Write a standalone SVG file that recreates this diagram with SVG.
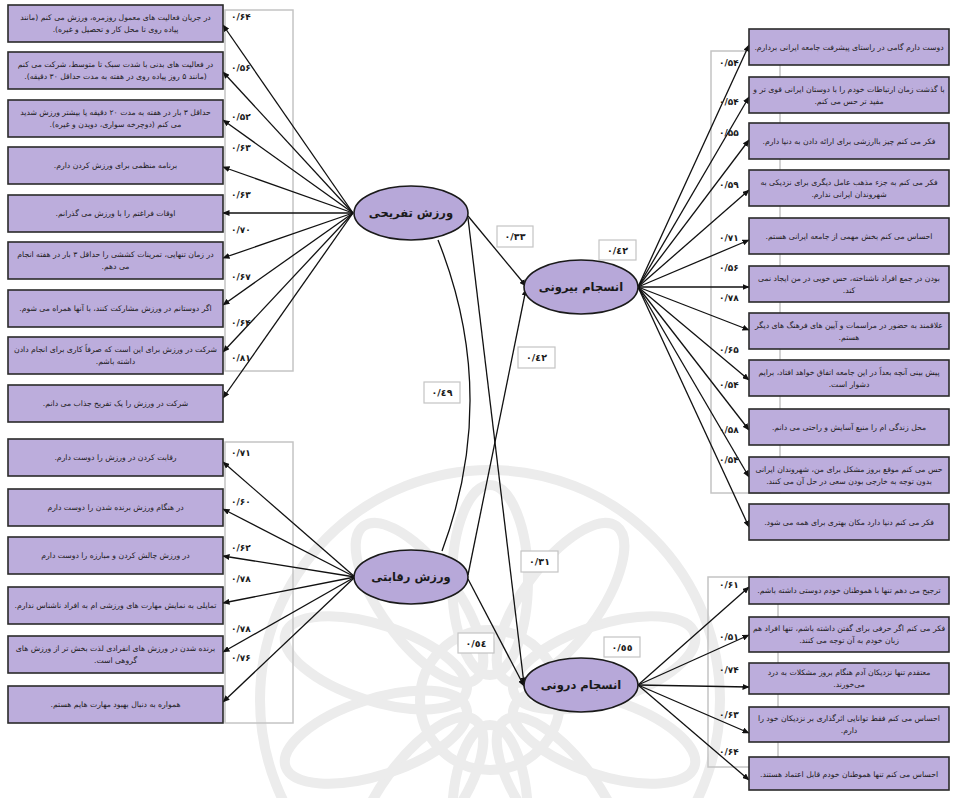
<svg xmlns="http://www.w3.org/2000/svg" width="956" height="798" viewBox="0 0 956 798">
<defs>
<marker id="ah" markerWidth="7" markerHeight="6" refX="6.5" refY="3" orient="auto" markerUnits="userSpaceOnUse">
<path d="M0,0 L7,3 L0,6 z" fill="#111"/>
</marker>
<ellipse id="petal" cx="0" cy="-120" rx="38" ry="95"/>
<style>
.box{fill:#bcaddc;stroke:#2a2a2a;stroke-width:1.6}
.ell{fill:#b7a8d9;stroke:#1a1a1a;stroke-width:1.6}
.frame{fill:none;stroke:#c4c4c4;stroke-width:1.5}
.lbox{fill:#fff;stroke:#c4c4c4;stroke-width:1.2}
.wm{fill:none;stroke:#ececec;stroke-width:10}
.t{font-family:"DejaVu Sans",sans-serif;font-size:7.7px;fill:#1c1c1c;text-anchor:middle;direction:rtl}
.et{font-family:"DejaVu Sans",sans-serif;font-size:11.5px;font-weight:bold;fill:#1a1a1a;text-anchor:middle;direction:rtl}
.n{font-family:"DejaVu Sans",sans-serif;font-size:9px;font-weight:bold;fill:#1a1a1a;direction:ltr}
.nc{font-family:"DejaVu Sans",sans-serif;font-size:9.5px;font-weight:bold;fill:#1a1a1a;text-anchor:middle;direction:ltr}
.c{stroke:#111;stroke-width:1.3;fill:none}
</style>
</defs>
<rect width="956" height="798" fill="#fff"/>
<g id="watermark" class="wm" transform="translate(490,700)">
<circle r="70"/>
<use href="#petal" transform="rotate(0)"/>
<use href="#petal" transform="rotate(36)"/>
<use href="#petal" transform="rotate(72)"/>
<use href="#petal" transform="rotate(108)"/>
<use href="#petal" transform="rotate(144)"/>
<use href="#petal" transform="rotate(180)"/>
<use href="#petal" transform="rotate(216)"/>
<use href="#petal" transform="rotate(252)"/>
<use href="#petal" transform="rotate(288)"/>
<use href="#petal" transform="rotate(324)"/>
<circle r="230"/>
</g>
<g id="frames">
<rect class="frame" x="225" y="10" width="68" height="361"/>
<rect class="frame" x="225" y="442" width="68" height="281"/>
<rect class="frame" x="711" y="51" width="69" height="442"/>
<rect class="frame" x="708" y="577" width="70" height="190"/>
</g>
<g id="connectors">
<line class="c" x1="353" y1="213" x2="223" y2="25" marker-end="url(#ah)"/>
<line class="c" x1="353" y1="213" x2="223" y2="72" marker-end="url(#ah)"/>
<line class="c" x1="353" y1="213" x2="223" y2="120" marker-end="url(#ah)"/>
<line class="c" x1="353" y1="213" x2="223" y2="167" marker-end="url(#ah)"/>
<line class="c" x1="353" y1="213" x2="223" y2="213" marker-end="url(#ah)"/>
<line class="c" x1="353" y1="213" x2="223" y2="258" marker-end="url(#ah)"/>
<line class="c" x1="353" y1="213" x2="223" y2="305" marker-end="url(#ah)"/>
<line class="c" x1="353" y1="213" x2="223" y2="352" marker-end="url(#ah)"/>
<line class="c" x1="353" y1="213" x2="223" y2="398" marker-end="url(#ah)"/>
<line class="c" x1="355" y1="577" x2="223" y2="462" marker-end="url(#ah)"/>
<line class="c" x1="355" y1="577" x2="223" y2="509" marker-end="url(#ah)"/>
<line class="c" x1="355" y1="577" x2="223" y2="556" marker-end="url(#ah)"/>
<line class="c" x1="355" y1="577" x2="223" y2="603" marker-end="url(#ah)"/>
<line class="c" x1="355" y1="577" x2="223" y2="652" marker-end="url(#ah)"/>
<line class="c" x1="355" y1="577" x2="223" y2="702" marker-end="url(#ah)"/>
<line class="c" x1="638" y1="287" x2="749" y2="45" marker-end="url(#ah)"/>
<line class="c" x1="638" y1="287" x2="749" y2="97" marker-end="url(#ah)"/>
<line class="c" x1="638" y1="287" x2="749" y2="140" marker-end="url(#ah)"/>
<line class="c" x1="638" y1="287" x2="749" y2="190" marker-end="url(#ah)"/>
<line class="c" x1="638" y1="287" x2="749" y2="240" marker-end="url(#ah)"/>
<line class="c" x1="638" y1="287" x2="749" y2="287" marker-end="url(#ah)"/>
<line class="c" x1="638" y1="287" x2="749" y2="330" marker-end="url(#ah)"/>
<line class="c" x1="638" y1="287" x2="749" y2="380" marker-end="url(#ah)"/>
<line class="c" x1="638" y1="287" x2="749" y2="430" marker-end="url(#ah)"/>
<line class="c" x1="638" y1="287" x2="749" y2="477" marker-end="url(#ah)"/>
<line class="c" x1="638" y1="287" x2="749" y2="527" marker-end="url(#ah)"/>
<line class="c" x1="638" y1="685" x2="749" y2="587" marker-end="url(#ah)"/>
<line class="c" x1="638" y1="685" x2="749" y2="635" marker-end="url(#ah)"/>
<line class="c" x1="638" y1="685" x2="749" y2="687" marker-end="url(#ah)"/>
<line class="c" x1="638" y1="685" x2="749" y2="733" marker-end="url(#ah)"/>
<line class="c" x1="638" y1="685" x2="749" y2="780" marker-end="url(#ah)"/>
<line class="c" x1="468" y1="216" x2="526" y2="286" marker-end="url(#ah)"/>
<line class="c" x1="468" y1="575" x2="526" y2="289" marker-end="url(#ah)"/>
<line class="c" x1="468" y1="218" x2="524" y2="684" marker-end="url(#ah)"/>
<line class="c" x1="468" y1="579" x2="524" y2="686" marker-end="url(#ah)"/>
<path class="c" d="M438,240 Q500,395 442,551"/>
</g>
<g id="loadings">
<text class="n" x="231" y="20">۰/۶۴</text>
<text class="n" x="231" y="71">۰/۵۶</text>
<text class="n" x="231" y="120">۰/۵۲</text>
<text class="n" x="231" y="151">۰/۶۳</text>
<text class="n" x="231" y="198">۰/۶۳</text>
<text class="n" x="231" y="233">۰/۷۰</text>
<text class="n" x="231" y="280">۰/۶۷</text>
<text class="n" x="231" y="326">۰/۶۴</text>
<text class="n" x="231" y="361">۰/۸۱</text>
<text class="n" x="231" y="456">۰/۷۱</text>
<text class="n" x="231" y="505">۰/۶۰</text>
<text class="n" x="231" y="551">۰/۶۲</text>
<text class="n" x="231" y="582">۰/۷۸</text>
<text class="n" x="231" y="632">۰/۷۸</text>
<text class="n" x="231" y="661">۰/۷۶</text>
<text class="n" x="719" y="66">۰/۵۴</text>
<text class="n" x="719" y="105">۰/۵۴</text>
<text class="n" x="719" y="136">۰/۵۵</text>
<text class="n" x="719" y="188">۰/۵۹</text>
<text class="n" x="719" y="241">۰/۷۱</text>
<text class="n" x="719" y="271">۰/۵۶</text>
<text class="n" x="719" y="301">۰/۷۸</text>
<text class="n" x="719" y="353">۰/۶۵</text>
<text class="n" x="719" y="388">۰/۵۴</text>
<text class="n" x="719" y="433">۰/۵۸</text>
<text class="n" x="719" y="463">۰/۵۴</text>
<text class="n" x="719" y="588">۰/۶۱</text>
<text class="n" x="719" y="640">۰/۵۱</text>
<text class="n" x="719" y="673">۰/۷۴</text>
<text class="n" x="719" y="718">۰/۶۳</text>
<text class="n" x="719" y="755">۰/۶۴</text>
</g>
<g id="path-labels">
<rect class="lbox" x="497" y="226" width="36" height="21"/><text class="nc" x="515" y="240">٠/٣٣</text>
<rect class="lbox" x="599" y="240" width="37" height="20"/><text class="nc" x="617.5" y="254">٠/٤٢</text>
<rect class="lbox" x="518" y="347" width="37" height="21"/><text class="nc" x="536.5" y="361">٠/٤٢</text>
<rect class="lbox" x="424" y="382" width="36" height="21"/><text class="nc" x="442" y="396">٠/٤٩</text>
<rect class="lbox" x="521" y="551" width="37" height="21"/><text class="nc" x="539.5" y="565">٠/٣١</text>
<rect class="lbox" x="458" y="633" width="36" height="20"/><text class="nc" x="476" y="647">٠/٥٤</text>
<rect class="lbox" x="604" y="637" width="36" height="20"/><text class="nc" x="622" y="651">٠/٥٥</text>
</g>
<g id="latent-recreational"><ellipse class="ell" cx="411" cy="213" rx="57" ry="27"/><text class="et" x="411" y="217">ورزش تفریحی</text></g>
<g id="latent-external"><ellipse class="ell" cx="581" cy="287" rx="57" ry="27"/><text class="et" x="581" y="291">انسجام بیرونی</text></g>
<g id="latent-competitive"><ellipse class="ell" cx="411" cy="577" rx="57" ry="27"/><text class="et" x="411" y="581">ورزش رقابتی</text></g>
<g id="latent-internal"><ellipse class="ell" cx="581" cy="685" rx="57" ry="27"/><text class="et" x="581" y="689">انسجام درونی</text></g>
<g id="item-r1"><rect class="box" x="8" y="5" width="215" height="37"/><text class="t" x="115.5" y="20">در جریان فعالیت های معمول روزمره، ورزش می کنم (مانند</text><text class="t" x="115.5" y="32">پیاده روی تا محل کار و تحصیل و غیره).</text></g>
<g id="item-r2"><rect class="box" x="8" y="52" width="215" height="37"/><text class="t" x="115.5" y="67">در فعالیت های بدنی با شدت سبک تا متوسط، شرکت می کنم</text><text class="t" x="115.5" y="79">(مانند ۵ روز پیاده روی در هفته به مدت حداقل ۳۰ دقیقه).</text></g>
<g id="item-r3"><rect class="box" x="8" y="100" width="215" height="37"/><text class="t" x="115.5" y="115">حداقل ۳ بار در هفته به مدت ۲۰ دقیقه یا بیشتر ورزش شدید</text><text class="t" x="115.5" y="127">می کنم (دوچرخه سواری، دویدن و غیره).</text></g>
<g id="item-r4"><rect class="box" x="8" y="147" width="215" height="37"/><text class="t" x="115.5" y="168">برنامه منظمی برای ورزش کردن دارم.</text></g>
<g id="item-r5"><rect class="box" x="8" y="195" width="215" height="37"/><text class="t" x="115.5" y="216">اوقات فراغتم را با ورزش می گذرانم.</text></g>
<g id="item-r6"><rect class="box" x="8" y="242" width="215" height="37"/><text class="t" x="115.5" y="257">در زمان تنهایی، تمرینات کششی را حداقل ۳ بار در هفته انجام</text><text class="t" x="115.5" y="269">می دهم.</text></g>
<g id="item-r7"><rect class="box" x="8" y="290" width="215" height="37"/><text class="t" x="115.5" y="311">اگر دوستانم در ورزش مشارکت کنند، با آنها همراه می شوم.</text></g>
<g id="item-r8"><rect class="box" x="8" y="337" width="215" height="37"/><text class="t" x="115.5" y="352">شرکت در ورزش برای این است که صرفاً کاری برای انجام دادن</text><text class="t" x="115.5" y="364">داشته باشم.</text></g>
<g id="item-r9"><rect class="box" x="8" y="385" width="215" height="37"/><text class="t" x="115.5" y="406">شرکت در ورزش را یک تفریح جذاب می دانم.</text></g>
<g id="item-c1"><rect class="box" x="8" y="439" width="215" height="37"/><text class="t" x="115.5" y="460">رقابت کردن در ورزش را دوست دارم.</text></g>
<g id="item-c2"><rect class="box" x="8" y="489" width="215" height="37"/><text class="t" x="115.5" y="510">در هنگام ورزش برنده شدن را دوست دارم</text></g>
<g id="item-c3"><rect class="box" x="8" y="537" width="215" height="37"/><text class="t" x="115.5" y="558">در ورزش چالش کردن و مبارزه را دوست دارم</text></g>
<g id="item-c4"><rect class="box" x="8" y="587" width="215" height="37"/><text class="t" x="115.5" y="608">تمایلی به نمایش مهارت های ورزشی ام به افراد ناشناس ندارم.</text></g>
<g id="item-c5"><rect class="box" x="8" y="636" width="215" height="37"/><text class="t" x="115.5" y="651">برنده شدن در ورزش های انفرادی لذت بخش تر از ورزش های</text><text class="t" x="115.5" y="663">گروهی است.</text></g>
<g id="item-c6"><rect class="box" x="8" y="686" width="215" height="37"/><text class="t" x="115.5" y="707">همواره به دنبال بهبود مهارت هایم هستم.</text></g>
<g id="item-e1"><rect class="box" x="749" y="29" width="200" height="36"/><text class="t" x="849" y="50">دوست دارم گامی در راستای پیشرفت جامعه ایرانی بردارم.</text></g>
<g id="item-e2"><rect class="box" x="749" y="77" width="200" height="36"/><text class="t" x="849" y="92">با گذشت زمان ارتباطات خودم را با دوستان ایرانی قوی تر و</text><text class="t" x="849" y="104">مفید تر حس می کنم.</text></g>
<g id="item-e3"><rect class="box" x="749" y="123" width="200" height="36"/><text class="t" x="849" y="144">فکر می کنم چیز باارزشی برای ارائه دادن به دنیا دارم.</text></g>
<g id="item-e4"><rect class="box" x="749" y="170" width="200" height="36"/><text class="t" x="849" y="185">فکر می کنم به جزء مذهب عامل دیگری برای نزدیکی به</text><text class="t" x="849" y="197">شهروندان ایرانی ندارم.</text></g>
<g id="item-e5"><rect class="box" x="749" y="218" width="200" height="36"/><text class="t" x="849" y="239">احساس می کنم بخش مهمی از جامعه ایرانی هستم.</text></g>
<g id="item-e6"><rect class="box" x="749" y="266" width="200" height="36"/><text class="t" x="849" y="281">بودن در جمع افراد ناشناخته، حس خوبی در من ایجاد نمی</text><text class="t" x="849" y="293">کند.</text></g>
<g id="item-e7"><rect class="box" x="749" y="313" width="200" height="36"/><text class="t" x="849" y="328">علاقمند به حضور در مراسمات و آیین های فرهنگ های دیگر</text><text class="t" x="849" y="340">هستم.</text></g>
<g id="item-e8"><rect class="box" x="749" y="360" width="200" height="36"/><text class="t" x="849" y="375">پیش بینی آنچه بعداً در این جامعه اتفاق خواهد افتاد، برایم</text><text class="t" x="849" y="387">دشوار است.</text></g>
<g id="item-e9"><rect class="box" x="749" y="409" width="200" height="36"/><text class="t" x="849" y="430">محل زندگی ام را منبع آسایش و راحتی می دانم.</text></g>
<g id="item-e10"><rect class="box" x="749" y="457" width="200" height="36"/><text class="t" x="849" y="472">حس می کنم موقع بروز مشکل برای من، شهروندان ایرانی</text><text class="t" x="849" y="484">بدون توجه به خارجی بودن سعی در حل آن می کنند.</text></g>
<g id="item-e11"><rect class="box" x="749" y="504" width="200" height="36"/><text class="t" x="849" y="525">فکر می کنم دنیا دارد مکان بهتری برای همه می شود.</text></g>
<g id="item-i1"><rect class="box" x="749" y="577" width="200" height="27"/><text class="t" x="849" y="593">ترجیح می دهم تنها با هموطنان خودم دوستی داشته باشم.</text></g>
<g id="item-i2"><rect class="box" x="749" y="617" width="200" height="35"/><text class="t" x="849" y="631">فکر می کنم اگر حرفی برای گفتن داشته باشم، تنها افراد هم</text><text class="t" x="849" y="643">زبان خودم به آن توجه می کنند.</text></g>
<g id="item-i3"><rect class="box" x="749" y="663" width="200" height="31"/><text class="t" x="849" y="675">معتقدم تنها نزدیکان آدم هنگام بروز مشکلات به درد</text><text class="t" x="849" y="687">می‌خورند.</text></g>
<g id="item-i4"><rect class="box" x="749" y="707" width="200" height="35"/><text class="t" x="849" y="721">احساس می کنم فقط توانایی اثرگذاری بر نزدیکان خود را</text><text class="t" x="849" y="733">دارم.</text></g>
<g id="item-i5"><rect class="box" x="749" y="757" width="200" height="33"/><text class="t" x="849" y="777">احساس می کنم تنها هموطنان خودم قابل اعتماد هستند.</text></g>
</svg>
